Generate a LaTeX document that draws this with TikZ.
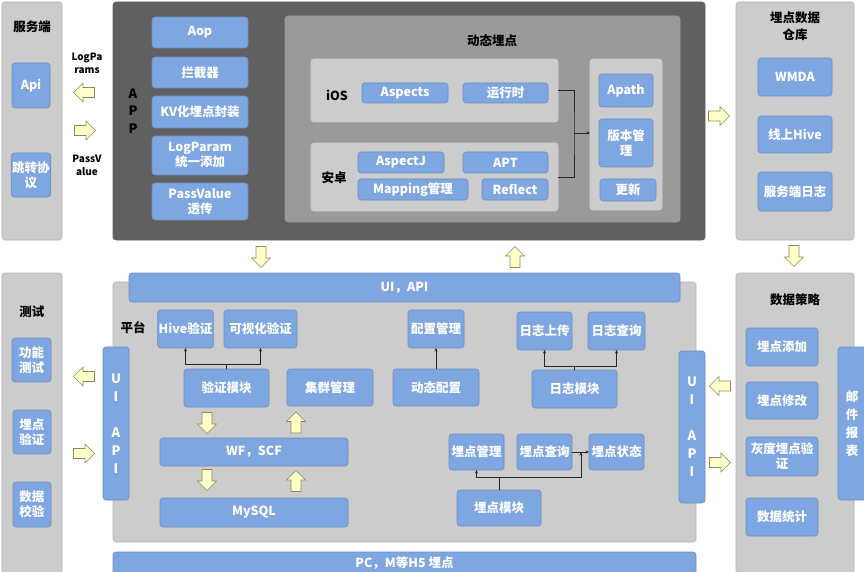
\documentclass[tikz,border=0pt]{standalone}
\usepackage{fontspec}
\setmainfont{Noto Sans CJK SC}
\usetikzlibrary{arrows.meta}
\definecolor{bfill}{HTML}{7EA6E0}
\definecolor{bdraw}{HTML}{6C8EBF}
\definecolor{pdark}{HTML}{606060}
\definecolor{pmid}{HTML}{9A9A9A}
\definecolor{plight}{HTML}{CCCCCC}
\definecolor{pedge}{HTML}{B3B3B3}
\definecolor{afill}{HTML}{FFFFC8}
\definecolor{adraw}{HTML}{8A8A60}
\tikzset{
 box/.style={draw=bdraw, fill=bfill, rounded corners=3pt, text=white, font=\fontsize{12.5}{15}\selectfont\bfseries, align=center, inner sep=1pt, outer sep=0pt, line width=0.6pt},
 pnl/.style={rounded corners=3pt, inner sep=0pt, outer sep=0pt, line width=0.6pt},
 lpnl/.style={pnl, fill=plight, draw=pedge},
 ttl/.style={text=black, font=\fontsize{12.5}{17}\selectfont\bfseries, align=center, inner sep=0pt},
 sml/.style={text=black, font=\fontsize{10}{13}\selectfont\bfseries, align=center, inner sep=0pt},
 blkarrow/.style={draw=adraw, fill=afill, line width=0.6pt, line join=miter},
 conn/.style={draw=black!85, line width=0.6pt},
 tip/.style={-{Stealth[length=3.5pt,width=3pt]}}
}
\newcommand\mkbox[7]{\node[#1, minimum width={#5-#3}, minimum height={#6-#4}] (#2) at ({(#3+#5)/2},{(#4+#6)/2}) {#7};}
\newcommand\barrow[4]{\coordinate (#1) at (#2,#3);
 \draw[blkarrow, shift={(#1)}, rotate=#4] (-10.5,-5) -- (1,-5) -- (1,-9.5) -- (10.5,0) -- (1,9.5) -- (1,5) -- (-10.5,5) -- cycle;}
\begin{document}
\begin{tikzpicture}[x=1pt,y=-1pt]
\useasboundingbox (0,0) rectangle (864,572);
\clip (0,0) rectangle (864,572);
% ---------- top row panels
\mkbox{lpnl}{srv}{2}{2}{62}{240}{}
\node[ttl] (srvt) at (32,27) {服务端};
\mkbox{box}{api}{12}{63}{50}{108}{Api}
\mkbox{box}{jump}{12}{153}{50}{197}{跳转协\\议}
\node[sml] (lp) at (87,63.5) {LogPa\\rams};
\node[sml] (pv) at (87,165) {PassV\\alue};
\barrow{a1}{84}{92.5}{180}
\barrow{a2}{85}{130.5}{0}

\mkbox{pnl,fill=pdark,draw=pdark}{app}{113}{2}{705}{240}{}
\node[ttl, font=\fontsize{13}{17.5}\selectfont\bfseries] (appt) at (133,111) {A\\P\\P};
\mkbox{box}{aop}{152}{17}{248}{48}{Aop}
\mkbox{box}{lan}{152}{57}{248}{88}{拦截器}
\mkbox{box}{kv}{152}{96}{248}{128}{KV化埋点封装}
\mkbox{box}{lpa}{152}{136}{248}{175}{LogParam\\统一添加}
\mkbox{box}{pva}{152}{183}{248}{220}{PassValue\\透传}

\mkbox{pnl,fill=pmid,draw=pmid}{dyn}{285}{16}{680}{222}{}
\node[ttl] (dynt) at (492,41) {动态埋点};
\mkbox{lpnl,draw=plight}{ios}{311}{59}{558}{122}{}
\node[ttl] (iost) at (337,95) {iOS};
\mkbox{box}{asp}{362}{83}{448}{103}{Aspects}
\mkbox{box}{rt}{463}{83}{548}{103}{运行时}
\mkbox{lpnl,draw=plight}{and}{311}{143}{558}{211}{}
\node[ttl] (andt) at (334,178) {安卓};
\mkbox{box}{aj}{358}{152}{444}{173}{AspectJ}
\mkbox{box}{apt}{463}{152}{548}{173}{APT}
\mkbox{box}{map}{358}{179}{468}{200}{Mapping管理}
\mkbox{box}{ref}{482}{179}{548}{200}{Reflect}
\mkbox{lpnl,draw=plight}{rgt}{590}{59}{662}{210}{}
\mkbox{box}{apath}{599}{74}{653}{107}{Apath}
\mkbox{box}{ver}{599}{119}{653}{167}{版本管\\理}
\mkbox{box}{upd}{600}{179}{656}{201}{更新}
\coordinate (jx) at (574,133);
\draw[conn] (ios.east) -| (jx) |- (and.east);
\draw[conn,tip] (jx) -- (jx -| rgt.west);

\barrow{a3}{719}{116}{0}
\mkbox{lpnl}{wh}{736}{2}{854}{240}{}
\node[ttl] (wht) at (795,26.5) {埋点数据\\仓库};
\mkbox{box}{wmda}{758}{58}{832}{96}{WMDA}
\mkbox{box}{hive}{758}{116}{832}{153}{线上Hive}
\mkbox{box}{slog}{758}{172}{832}{211}{服务端日志}

% ---------- between rows
\barrow{a4}{794}{256}{270}
\barrow{a5}{261}{257}{270}
\barrow{a6}{515}{257}{90}

% ---------- bottom row
\mkbox{lpnl}{test}{2}{273}{62}{590}{}
\node[ttl] (testt) at (32,312) {测试};
\mkbox{box}{gn}{12}{338}{51}{382}{功能\\测试}
\mkbox{box}{mdv}{13}{410}{51}{454}{埋点\\验证}
\mkbox{box}{sjx}{13}{482}{51}{527}{数据\\校验}
\barrow{a7}{84}{376.5}{180}
\barrow{a8}{84}{453.5}{0}

\mkbox{lpnl}{plat}{113}{282}{696}{542}{}
\mkbox{box}{uiapi}{129}{273}{680}{302}{UI，API}
\mkbox{box,font=\fontsize{13}{18}\selectfont\bfseries}{lui}{103}{347}{129}{500}{U\\I\\[18pt]A\\P\\I}
\node[ttl] (platt) at (133,328) {平台};
\mkbox{box}{hv}{158}{310}{213}{348}{Hive验证}
\mkbox{box}{ksh}{224}{310}{297}{348}{可视化验证}
\mkbox{box}{vm}{184}{369}{269}{407}{验证模块}
\mkbox{box}{jq}{287}{369}{373}{406}{集群管理}
\draw[conn,tip] (vm.north) -- (vm.north |- 0,364) -| (hv.south);
\draw[conn,tip] (vm.north) -- (vm.north |- 0,364) -| (ksh.south);
\barrow{a9}{207}{423}{270}
\mkbox{box}{wf}{160}{438}{348}{466}{WF，SCF}
\barrow{a10}{207}{480}{270}
\mkbox{box}{mysql}{160}{498}{348}{527}{MySQL}
\barrow{a11}{296}{422.5}{90}
\barrow{a12}{296}{481}{90}

\mkbox{box}{cm}{408}{310}{464}{348}{配置管理}
\mkbox{box}{dc}{393}{369}{479}{406}{动态配置}
\draw[conn,tip] (dc.north) -- (cm.south);

\mkbox{box}{rzs}{517}{312}{572}{350}{日志上传}
\mkbox{box}{rzc}{588}{312}{645}{350}{日志查询}
\mkbox{box}{rzm}{532}{370}{617}{408}{日志模块}
\draw[conn,tip] (rzm.north) -- (rzm.north |- 0,366) -| (rzs.south);
\draw[conn,tip] (rzm.north) -- (rzm.north |- 0,366) -| (rzc.south);

\mkbox{box}{mdg}{449}{434}{504}{470}{埋点管理}
\mkbox{box}{mdc}{517}{434}{572}{470}{埋点查询}
\mkbox{box}{mdz}{589}{434}{644}{470}{埋点状态}
\mkbox{box}{mdm}{457}{490}{541}{526}{埋点模块}
\coordinate (mj) at (581,452);
\draw[conn,tip] (mdm.north) -- (mdm.north |- 0,477) -| (mdg.south);
\draw[conn,tip] (mdm.north) -- (mdm.north |- 0,477) -| (mj);
\draw[conn,tip] (mdc.east) -- (mdz.west);

\mkbox{box,font=\fontsize{13}{18}\selectfont\bfseries}{rui}{679}{351}{705}{503}{U\\I\\[18pt]A\\P\\I}
\barrow{a13}{720}{386}{180}
\barrow{a14}{720}{462.5}{0}

\mkbox{lpnl}{strat}{736}{273}{854}{590}{}
\node[ttl] (stratt) at (795,300) {数据策略};
\mkbox{box}{mdt}{746}{328}{818}{366}{埋点添加}
\mkbox{box}{mdx}{746}{382}{818}{419}{埋点修改}
\mkbox{box}{hd}{746}{437}{818}{476}{灰度埋点验\\证}
\mkbox{box}{sjt}{746}{498}{818}{536}{数据统计}
\mkbox{box,font=\fontsize{12.5}{18}\selectfont\bfseries}{mail}{838}{347}{866}{500}{邮\\件\\报\\表}

\mkbox{box}{pc}{113}{552}{696}{590}{}
\node[text=white, font=\fontsize{12.5}{15}\selectfont\bfseries] (pct) at (404.5,563) {PC，M等H5 埋点};
\end{tikzpicture}
\end{document}
